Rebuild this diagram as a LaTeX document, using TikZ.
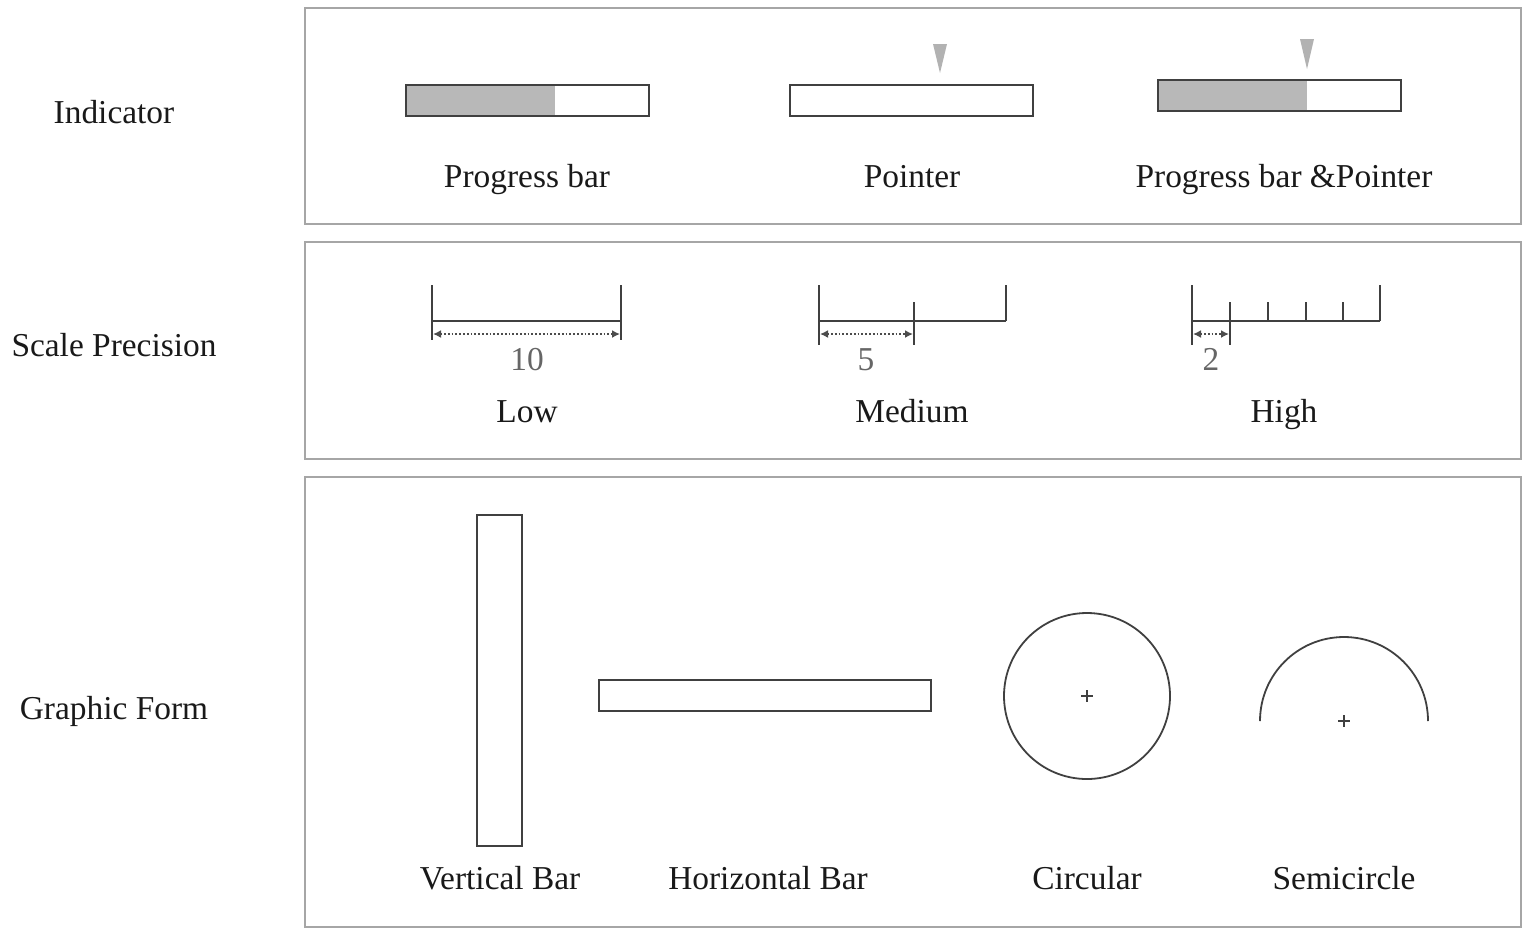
\documentclass[tikz,border=0pt]{standalone}
\usepackage{fontspec}
\setmainfont{Liberation Serif}
\usetikzlibrary{arrows.meta}
\begin{document}
\begin{tikzpicture}[x=0.5pt,y=-0.5pt,
 panel/.style={draw=black!35,line width=0.8pt},
 shp/.style={draw=black!75,line width=0.9pt},
 lbl/.style={font=\fontsize{16.7}{18}\selectfont,text=black!90,text height=1.45ex,text depth=0.3ex,inner sep=0pt},
 num/.style={font=\fontsize{16.7}{18}\selectfont,text=black!60,text height=1.45ex,text depth=0.3ex,inner sep=0pt},
 dim/.style={draw=black!70,densely dotted,line width=0.9pt,{Latex[length=4pt,width=4pt]}-{Latex[length=4pt,width=4pt]}},
 ptr/.style={fill=black!30,draw=none}]
\useasboundingbox (0,0) rectangle (1536,939);
\draw[panel] (305,8) rectangle (1521,224);
\draw[panel] (305,242) rectangle (1521,459);
\draw[panel] (305,477) rectangle (1521,927);
\node[lbl] (l1) at (114,118) {Indicator};
\node[lbl] (l2) at (114,351) {Scale Precision};
\node[lbl] (l3) at (114,714) {Graphic Form};
% indicator
\fill[black!28] (406,85) rectangle (555,116);
\draw[shp] (406,85) rectangle (649,116);
\draw[shp] (790,85) rectangle (1033,116);
\fill[ptr] (933,44) -- (947,44) -- (940,73) -- cycle;
\fill[black!28] (1158,80) rectangle (1307,111);
\draw[shp] (1158,80) rectangle (1401,111);
\fill[ptr] (1300,39) -- (1314,39) -- (1307,69) -- cycle;
\node[lbl] at (527,182) {Progress bar};
\node[lbl] at (912,182) {Pointer};
\node[lbl] at (1284,182) {Progress bar \&Pointer};
% scale
\draw[shp] (432,285) -- (432,340) (621,285) -- (621,340) (432,321) -- (621,321);
\draw[dim] (433,334) -- (620,334);
\node[num] at (527,365) {10};
\draw[shp] (819,285) -- (819,345) (914,302) -- (914,345) (1006,285) -- (1006,321) (819,321) -- (1006,321);
\draw[dim] (820,334) -- (913,334);
\node[num] at (866,365) {5};
\draw[shp] (1192,285) -- (1192,345) (1230,302) -- (1230,345) (1268,302) -- (1268,321) (1306,302) -- (1306,321) (1343,302) -- (1343,321) (1380,285) -- (1380,321) (1192,321) -- (1380,321);
\draw[dim] (1193,334) -- (1229,334);
\node[num] at (1211,365) {2};
\node[lbl] at (527,417) {Low};
\node[lbl] at (912,417) {Medium};
\node[lbl] at (1284,417) {High};
% graphic form
\draw[shp] (477,515) rectangle (522,846);
\draw[shp] (599,680) rectangle (931,711);
\draw[shp] (1087,696) circle[radius=83];
\draw[black!75,line width=0.7pt] (1081,696) -- (1093,696) (1087,690) -- (1087,702);
\draw[shp] (1428,721) arc[start angle=0,end angle=-180,radius=84];
\draw[black!75,line width=0.7pt] (1338,721) -- (1350,721) (1344,715) -- (1344,727);
\node[lbl] at (500,884) {Vertical Bar};
\node[lbl] at (768,884) {Horizontal Bar};
\node[lbl] at (1087,884) {Circular};
\node[lbl] at (1344,884) {Semicircle};
\end{tikzpicture}
\end{document}
